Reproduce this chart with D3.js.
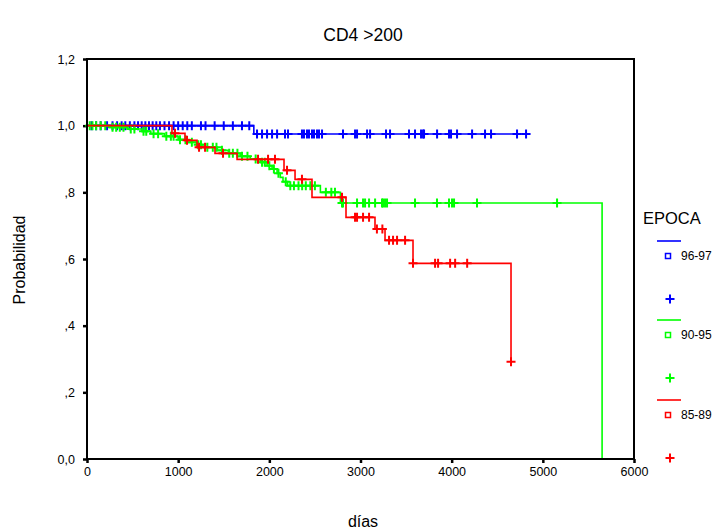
<!DOCTYPE html>
<html>
<head>
<meta charset="utf-8">
<script src="https://cdn.jsdelivr.net/npm/d3@7"></script>
<style>
  body { margin: 0; background: #fff; }
  svg { display: block; font-family: Arial, "Liberation Sans", sans-serif; }
</style>
</head>
<body>
<svg id="chart" width="727" height="532"></svg>
<script>
// ---- data (days, survival probability) ----
const groups = ["96-97", "90-95", "85-89"];
const colors = ["#0000ff", "#00ff00", "#ff0000"];

const blueSteps = [[0, 1.0], [1830, 0.975], [4816, 0.975]];
const blueCensor = [50, 100, 150, 220, 280, 330, 380, 420, 470, 520, 560, 600, 640, 680, 720, 760, 800, 850, 900, 950, 1000, 1050, 1100, 1150, 1250, 1300, 1400, 1500, 1600, 1700, 1780,
  1865, 1920, 1975, 2030, 2085, 2172, 2205, 2358, 2380, 2413, 2435, 2468, 2490, 2523, 2545, 2578, 2808, 2940, 2962, 3072, 3105, 3280, 3324, 3532, 3598, 3664, 3686, 3697, 3840, 3971, 3993, 4059, 4224, 4366, 4432, 4717, 4816];

const greenSteps = [[0, 1.0], [250, 0.995], [450, 0.99], [600, 0.983], [700, 0.976], [850, 0.968], [1000, 0.958], [1100, 0.95], [1200, 0.943], [1300, 0.935], [1430, 0.926], [1550, 0.917], [1680, 0.908], [1790, 0.90], [1900, 0.89], [1975, 0.88], [2030, 0.87], [2085, 0.857], [2120, 0.845], [2150, 0.832], [2200, 0.82], [2560, 0.80], [2780, 0.768], [5650, 0.0]];
const greenCensor = [30, 60, 100, 150, 200, 280, 320, 360, 400, 480, 520, 620, 650, 730, 780, 870, 920, 950, 1020, 1080, 1150, 1220, 1250, 1320, 1380, 1420, 1480, 1560, 1600, 1650, 1700, 1760, 1850, 1920, 1950, 2000, 2050, 2100, 2180, 2230, 2270, 2320, 2360, 2400, 2450, 2500, 2620, 2680, 2720,
  2797, 2808, 2962, 3028, 3050, 3094, 3160, 3236, 3247, 3269, 3291, 3598, 3839, 3971, 4004, 4026, 4278, 5156];

const redSteps = [[0, 1.0], [932, 0.977], [1075, 0.956], [1207, 0.935], [1404, 0.917], [1646, 0.899], [2161, 0.866], [2282, 0.839], [2468, 0.785], [2841, 0.725], [3159, 0.69], [3269, 0.656], [3576, 0.587], [4651, 0.292]];
const redCensor = [965, 1097, 1229, 1295, 1492, 1876, 1986, 2062, 2194, 2358, 2797, 2940, 2962, 3028, 3094, 3180, 3240, 3313, 3357, 3401, 3489, 3576, 3818, 3851, 3983, 4038, 4170, 4651];

const xTicks = [0, 1000, 2000, 3000, 4000, 5000, 6000];
const yTicks = [0, 0.2, 0.4, 0.6, 0.8, 1.0, 1.2];
const yTickLabels = ["0,0", ",2", ",4", ",6", ",8", "1,0", "1,2"];

const series = [
  { steps: blueSteps, censor: blueCensor, color: colors[0] },
  { steps: greenSteps, censor: greenCensor, color: colors[1] },
  { steps: redSteps, censor: redCensor, color: colors[2] }
];

// ---- layout ----
const svg = d3.select("#chart");
const L = 87, T = 59, W = 547, H = 400;
const x = d3.scaleLinear().domain([0, 6000]).range([L, L + W]);
const y = d3.scaleLinear().domain([0, 1.2]).range([T + H, T]);

// title
svg.append("text").attr("x", 363).attr("y", 41).attr("text-anchor", "middle")
  .attr("font-size", 17.5).text("CD4 >200");

// axis labels
svg.append("text").attr("transform", "translate(25,260) rotate(-90)")
  .attr("text-anchor", "middle").attr("font-size", 16).text("Probabilidad");
svg.append("text").attr("x", 363).attr("y", 527).attr("text-anchor", "middle")
  .attr("font-size", 16).text("días");

// axes via d3
const xAxis = svg.append("g").attr("transform", `translate(0,${T + H})`)
  .call(d3.axisBottom(x).tickValues(xTicks).tickSize(4).tickPadding(4).tickFormat(d3.format("d")));
const yAxis = svg.append("g").attr("transform", `translate(${L},0)`)
  .call(d3.axisLeft(y).tickValues(yTicks).tickSize(4).tickPadding(8).tickFormat((d, i) => yTickLabels[i]));
[xAxis, yAxis].forEach(g => {
  g.select(".domain").remove();
  g.selectAll(".tick line").attr("stroke", "#000").attr("stroke-width", 2.5);
  g.selectAll(".tick text").attr("font-size", 12.5).attr("fill", "#000")
    .attr("font-family", "Arial, 'Liberation Sans', sans-serif");
});

// curves
const line = d3.line().x(d => x(d[0])).y(d => y(d[1])).curve(d3.curveStepAfter);
function levelAt(steps, day) {
  let v = steps[0][1];
  for (const s of steps) { if (s[0] <= day) v = s[1]; }
  return v;
}
const cs = 4.5;
series.forEach(s => {
  const g = svg.append("g");
  g.append("path").attr("d", line(s.steps)).attr("fill", "none")
    .attr("stroke", s.color).attr("stroke-width", 1.6);
  s.censor.forEach(c => {
    const cx = x(c), cy = y(levelAt(s.steps, c));
    g.append("path").attr("d", `M${cx - cs},${cy}H${cx + cs}M${cx},${cy - cs}V${cy + cs}`)
      .attr("stroke", s.color).attr("stroke-width", 2);
  });
});

// frame
svg.append("rect").attr("x", L).attr("y", T).attr("width", W).attr("height", H)
  .attr("fill", "none").attr("stroke", "#000").attr("stroke-width", 2);

// legend
svg.append("text").attr("x", 643).attr("y", 224).attr("font-size", 16.5).text("EPOCA");
const legY = [241, 320, 400];
groups.forEach((gname, i) => {
  const y0 = legY[i];
  svg.append("line").attr("x1", 657).attr("x2", 681).attr("y1", y0).attr("y2", y0)
    .attr("stroke", colors[i]).attr("stroke-width", 1.6);
  svg.append("rect").attr("x", 665.5).attr("y", y0 + 12.5).attr("width", 5).attr("height", 5)
    .attr("fill", "none").attr("stroke", colors[i]).attr("stroke-width", 1.5);
  svg.append("text").attr("x", 681).attr("y", y0 + 19).attr("font-size", 12).text(gname);
  const px = 670, py = y0 + 58;
  svg.append("path").attr("d", `M${px - 4.5},${py}H${px + 4.5}M${px},${py - 4.5}V${py + 4.5}`)
    .attr("stroke", colors[i]).attr("stroke-width", 2);
});
</script>
</body>
</html>
